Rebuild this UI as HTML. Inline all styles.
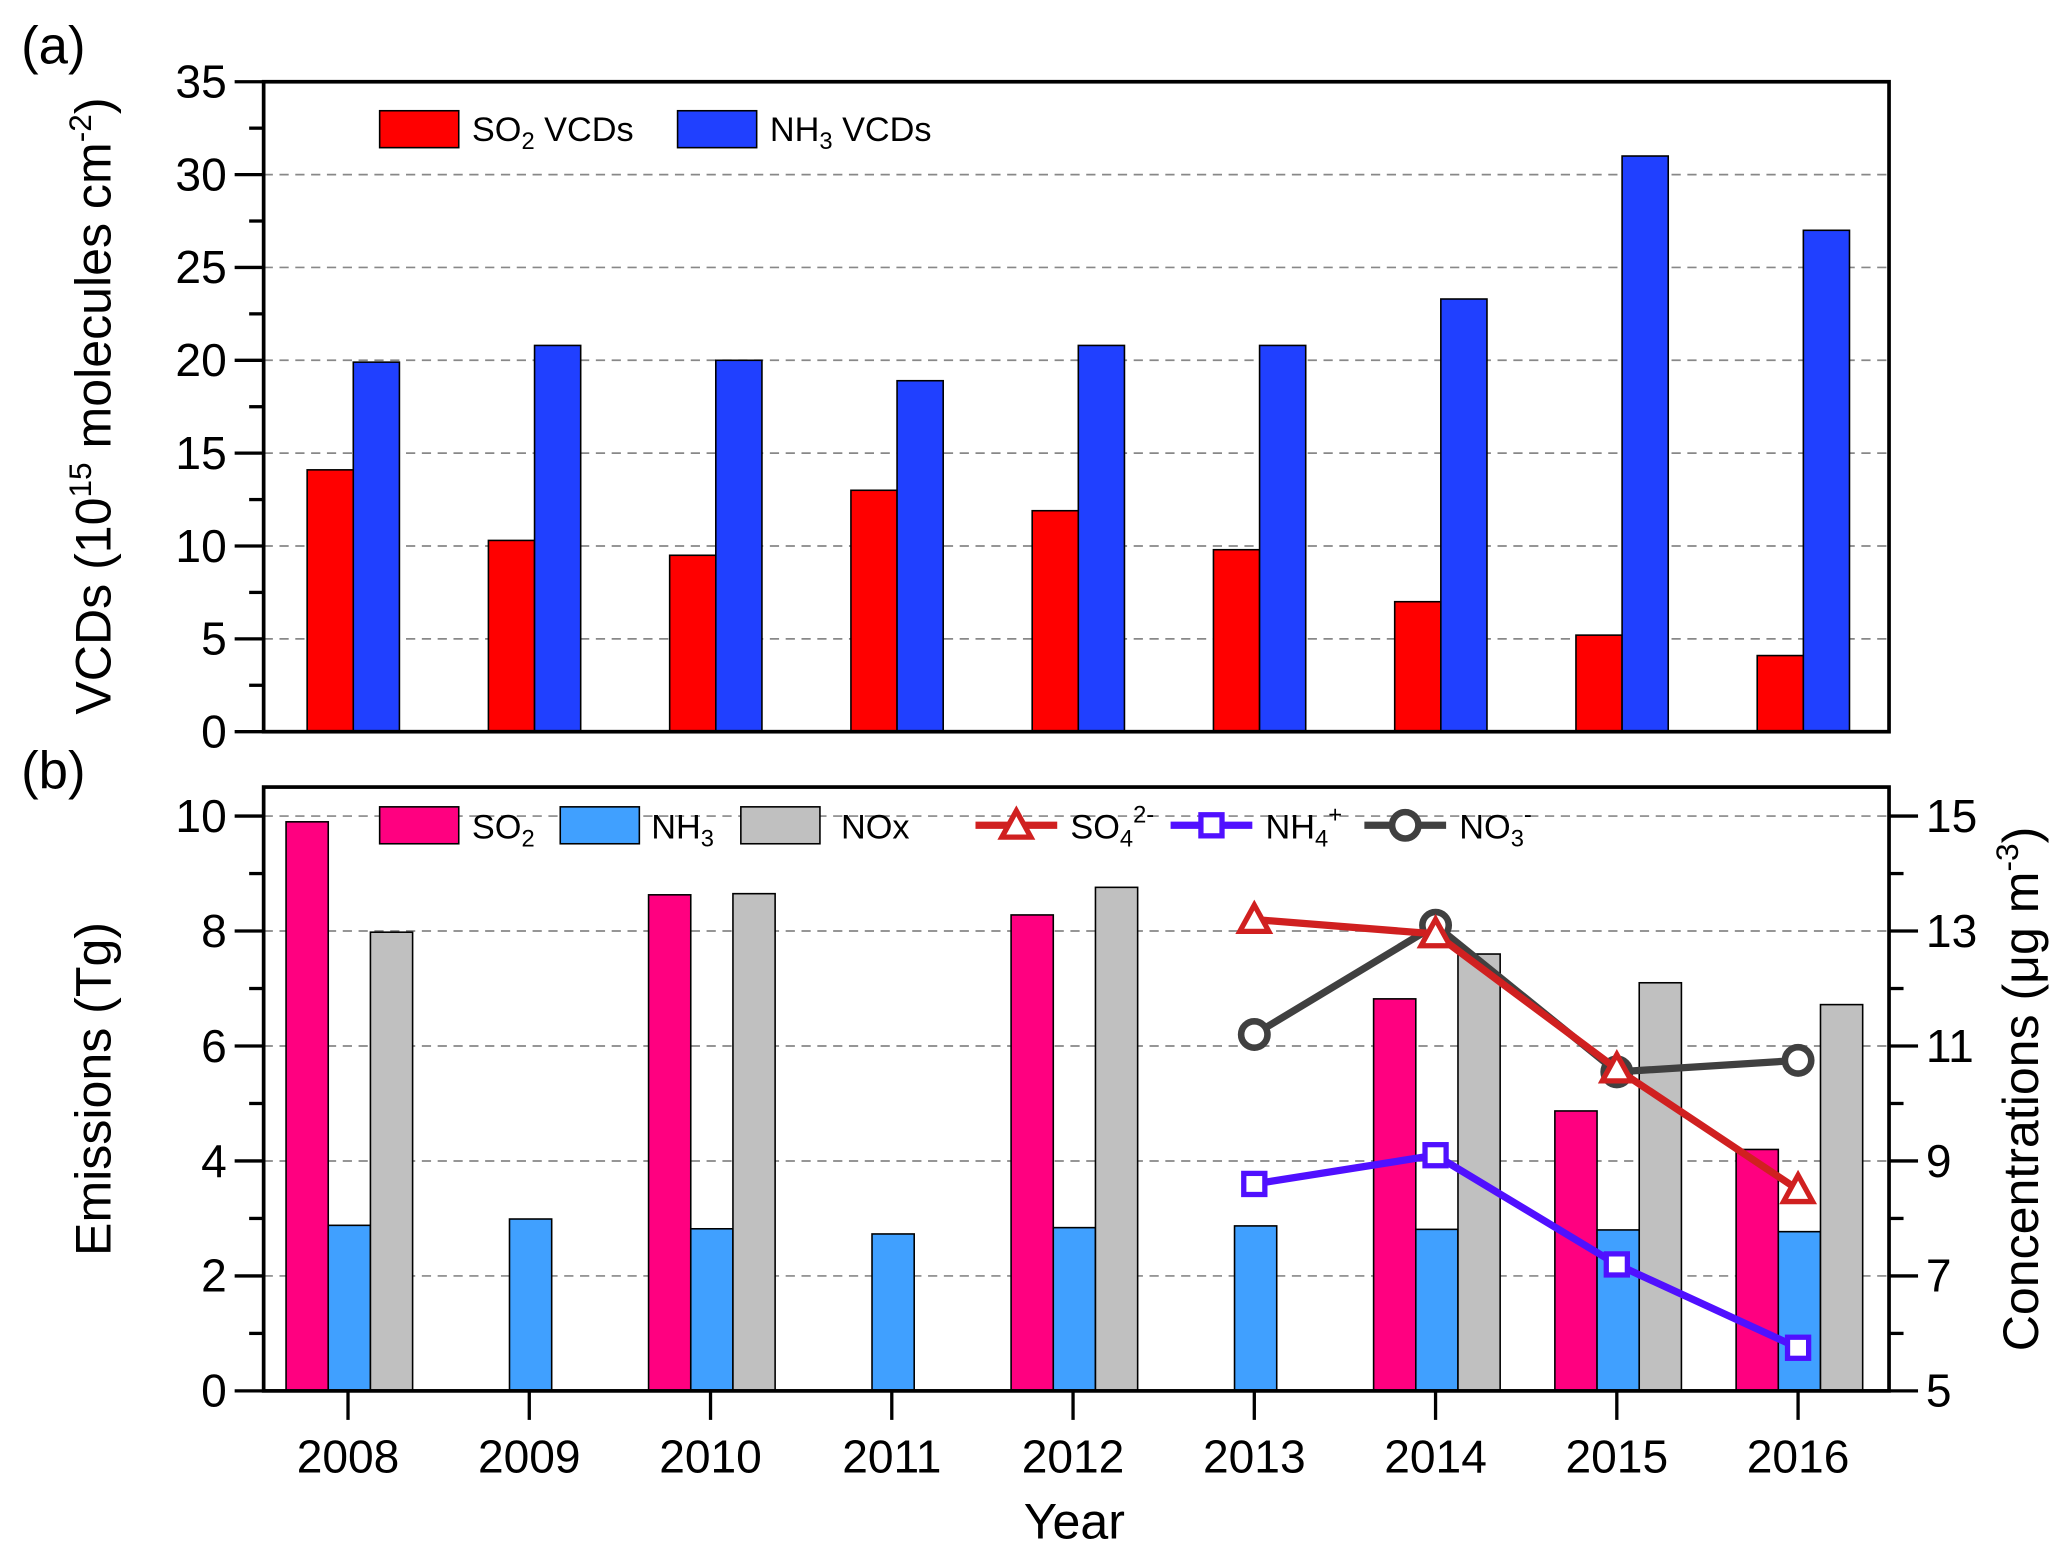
<!DOCTYPE html>
<html><head><meta charset="utf-8"><style>
html,body{margin:0;padding:0;background:#fff;}
svg{display:block;font-family:"Liberation Sans",Arial,sans-serif;}
</style></head><body>
<svg id="chart" width="2067" height="1557" viewBox="0 0 1568 1181" preserveAspectRatio="none" xmlns="http://www.w3.org/2000/svg">
<g id="ga"></g>
<g id="gb"></g>
</svg>
<script>
const years = [2008,2009,2010,2011,2012,2013,2014,2015,2016];
const vcdSO2 = [14.1,10.3,9.5,13.0,11.9,9.8,7.0,5.2,4.1];
const vcdNH3 = [19.9,20.8,20.0,18.9,20.8,20.8,23.3,31.0,27.0];
const emSO2 = [9.9,null,8.63,null,8.28,null,6.82,4.87,4.2];
const emNH3 = [2.88,2.99,2.82,2.73,2.84,2.87,2.81,2.80,2.77];
const emNOx = [7.98,null,8.65,null,8.76,null,7.6,7.1,6.72];
const concYears = [2013,2014,2015,2016];
const concSO4 = [13.2,12.95,10.6,8.5];
const concNH4 = [8.6,9.1,7.2,5.75];
const concNO3 = [11.2,13.1,10.55,10.75];
const ticksA = [0,5,10,15,20,25,30,35];
const ticksB = [0,2,4,6,8,10];
const ticksR = [5,7,9,11,13,15];

const NS="http://www.w3.org/2000/svg";
function mk(parent,tag,attrs,text){const e=document.createElementNS(NS,tag);for(const k in attrs)e.setAttribute(k,attrs[k]);if(text!==undefined)e.textContent=text;parent.appendChild(e);return e;}
const L=200,R=1433,step=137.5;
const xY=y=>264+(y-2008)*step;
const ga=document.getElementById('ga'), gb=document.getElementById('gb');
const aTop=62,aBot=555; const yA=v=>aBot-(v/35)*(aBot-aTop);
const bTop=597,bBot=1055; const yB=v=>bBot-v*43.6; const yR=v=>bBot-(v-5)*43.6;
const TF=35, AF=38, LF=26, SF=18;

// ===== Panel A =====
ticksA.forEach(t=>{
  if(t>0&&t<35){const g=mk(ga,'line',{x1:L,x2:R,y1:yA(t),y2:yA(t),stroke:'#888','stroke-width':1.3,'stroke-dasharray':'7,5'});
  }
  const tk=mk(ga,'line',{x1:L-22,x2:L,y1:yA(t),y2:yA(t),stroke:'#000','stroke-width':2.5});
  
  const lb=mk(ga,'text',{x:L-28,y:yA(t)+12,'text-anchor':'end','font-size':TF},String(t));
  
  if(t<35){const m=mk(ga,'line',{x1:L-11,x2:L,y1:yA(t+2.5),y2:yA(t+2.5),stroke:'#000','stroke-width':2.5});
  }
});
const wA=35;
years.forEach((y,i)=>{
  const c=xY(y)+4;
  const b1=mk(ga,'rect',{x:c-wA,y:yA(vcdSO2[i]),width:wA,height:aBot-yA(vcdSO2[i]),fill:'#ff0000',stroke:'#000','stroke-width':1.2});
  
  const b2=mk(ga,'rect',{x:c,y:yA(vcdNH3[i]),width:wA,height:aBot-yA(vcdNH3[i]),fill:'#2040ff',stroke:'#000','stroke-width':1.2});
  
});
const fa=mk(ga,'rect',{x:L,y:aTop,width:R-L,height:aBot-aTop,fill:'none',stroke:'#000','stroke-width':2.8});

let e;
e=mk(ga,'rect',{x:288,y:84,width:60,height:28,fill:'#ff0000',stroke:'#000','stroke-width':1.2});

e=mk(ga,'text',{x:358,y:107,'font-size':LF});e.innerHTML='SO<tspan font-size="'+SF+'" dy="6">2</tspan><tspan dy="-6"> VCDs</tspan>';

e=mk(ga,'rect',{x:514,y:84,width:60,height:28,fill:'#2040ff',stroke:'#000','stroke-width':1.2});

e=mk(ga,'text',{x:584,y:107,'font-size':LF});e.innerHTML='NH<tspan font-size="'+SF+'" dy="6">3</tspan><tspan dy="-6"> VCDs</tspan>';

e=mk(ga,'text',{x:0,y:0,'font-size':AF,'text-anchor':'middle',transform:'translate(84,308) rotate(-90)'});
e.innerHTML='VCDs (10<tspan font-size="24" dy="-15">15</tspan><tspan dy="15"> molecules cm</tspan><tspan font-size="24" dy="-15">-2</tspan><tspan dy="15">)</tspan>';

e=mk(ga,'text',{x:16,y:48,'font-size':40},'(a)');


// ===== Panel B =====
ticksB.forEach(t=>{
  if(t>0){const g=mk(gb,'line',{x1:L,x2:R,y1:yB(t),y2:yB(t),stroke:'#888','stroke-width':1.3,'stroke-dasharray':'7,5'});
  }
  const tk=mk(gb,'line',{x1:L-22,x2:L,y1:yB(t),y2:yB(t),stroke:'#000','stroke-width':2.5});
  
  const lb=mk(gb,'text',{x:L-28,y:yB(t)+12,'text-anchor':'end','font-size':TF},String(t));
  
  if(t<10){const m=mk(gb,'line',{x1:L-11,x2:L,y1:yB(t+1),y2:yB(t+1),stroke:'#000','stroke-width':2.5});
  }
});
ticksR.forEach(t=>{
  const tk=mk(gb,'line',{x1:R,x2:R+22,y1:yR(t),y2:yR(t),stroke:'#000','stroke-width':2.5});
  
  const lb=mk(gb,'text',{x:R+28,y:yR(t)+12,'font-size':TF},String(t));
  
  if(t<15){const m=mk(gb,'line',{x1:R,x2:R+11,y1:yR(t+1),y2:yR(t+1),stroke:'#000','stroke-width':2.5});
  }
});
const wB=32;
years.forEach((y,i)=>{
  const c=xY(y);
  if(emSO2[i]!==null){const b=mk(gb,'rect',{x:c-47,y:yB(emSO2[i]),width:wB,height:bBot-yB(emSO2[i]),fill:'#ff0080',stroke:'#000','stroke-width':1.2});
  }
  const b2=mk(gb,'rect',{x:c-15,y:yB(emNH3[i]),width:wB,height:bBot-yB(emNH3[i]),fill:'#40a0ff',stroke:'#000','stroke-width':1.2});
  
  if(emNOx[i]!==null){const b=mk(gb,'rect',{x:c+17,y:yB(emNOx[i]),width:wB,height:bBot-yB(emNOx[i]),fill:'#c0c0c0',stroke:'#000','stroke-width':1.2});
  }
  const tk=mk(gb,'line',{x1:c,x2:c,y1:bBot,y2:bBot+22,stroke:'#000','stroke-width':2.5});
  
  const lb=mk(gb,'text',{x:c,y:1117,'text-anchor':'middle','font-size':TF},String(y));
  
});
function drawMarker(x,y,color,marker,name){
  let m;
  if(marker==='tri') m=mk(gb,'polygon',{points:`${x},${y-11} ${x-11},${y+9} ${x+11},${y+9}`,fill:'#fff',stroke:color,'stroke-width':4});
  else if(marker==='sq') m=mk(gb,'rect',{x:x-8,y:y-8,width:16,height:16,fill:'#fff',stroke:color,'stroke-width':4});
  else m=mk(gb,'circle',{cx:x,cy:y,r:10,fill:'#fff',stroke:color,'stroke-width':5});
  
}
function series(vals,color,name,marker){
  const pts=concYears.map((y,i)=>[xY(y),yR(vals[i])]);
  const pl=mk(gb,'polyline',{points:pts.map(p=>p.join(',')).join(' '),fill:'none',stroke:color,'stroke-width':5.5});
  
  pts.forEach(p=>{drawMarker(p[0],p[1],color,marker,name);});
}
series(concNO3,'#404040','no3','circ');
series(concSO4,'#d02020','so4','tri');
series(concNH4,'#5010ff','nh4','sq');
const fb=mk(gb,'rect',{x:L,y:bTop,width:R-L,height:bBot-bTop,fill:'none',stroke:'#000','stroke-width':2.8});

e=mk(gb,'rect',{x:288,y:612,width:60,height:28,fill:'#ff0080',stroke:'#000','stroke-width':1.2});

e=mk(gb,'text',{x:358,y:636,'font-size':LF});e.innerHTML='SO<tspan font-size="'+SF+'" dy="6">2</tspan>';

e=mk(gb,'rect',{x:425,y:612,width:60,height:28,fill:'#40a0ff',stroke:'#000','stroke-width':1.2});

e=mk(gb,'text',{x:494,y:636,'font-size':LF});e.innerHTML='NH<tspan font-size="'+SF+'" dy="6">3</tspan>';

e=mk(gb,'rect',{x:562,y:612,width:60,height:28,fill:'#c0c0c0',stroke:'#000','stroke-width':1.2});

e=mk(gb,'text',{x:638,y:636,'font-size':LF},'NOx');

[[740,'#d02020','so4','tri','SO','4','2-'],[888,'#5010ff','nh4','sq','NH','4','+'],[1035,'#404040','no3','circ','NO','3','-']].forEach(l=>{
  const ln=mk(gb,'line',{x1:l[0],x2:l[0]+62,y1:626,y2:626,stroke:l[1],'stroke-width':5.5});
  
  drawMarker(l[0]+31,626,l[1],l[3],'legend-'+l[2]);
  const t=mk(gb,'text',{x:l[0]+72,y:636,'font-size':LF});
  t.innerHTML=l[4]+'<tspan font-size="'+SF+'" dy="6">'+l[5]+'</tspan><tspan font-size="'+SF+'" dy="-18">'+l[6]+'</tspan>';
  
});
e=mk(gb,'text',{x:0,y:0,'font-size':AF,'text-anchor':'middle',transform:'translate(84,826) rotate(-90)'},'Emissions (Tg)');

e=mk(gb,'text',{x:0,y:0,'font-size':AF,'text-anchor':'middle',transform:'translate(1546,826) rotate(-90)'});
e.innerHTML='Concentrations (μg m<tspan font-size="24" dy="-15">-3</tspan><tspan dy="15">)</tspan>';

e=mk(gb,'text',{x:815,y:1167,'font-size':AF,'text-anchor':'middle'},'Year');

e=mk(gb,'text',{x:16,y:598,'font-size':40},'(b)');

</script>
</body></html>
